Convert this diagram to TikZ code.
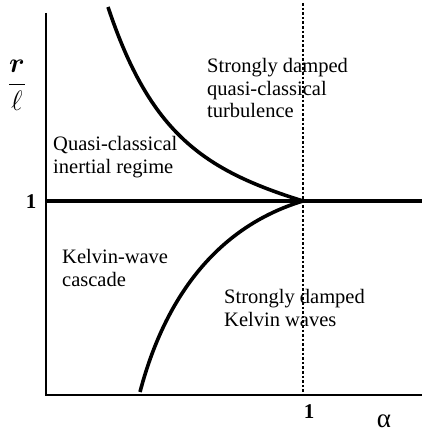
\RequirePackage{fix-cm}
\documentclass[tikz,border=0pt]{standalone}
\usepackage{amsmath}
\usepackage{fontspec}
\setmainfont{Liberation Serif}
\tikzset{
  region/.style={anchor=west, align=left, inner sep=0pt,
    font=\fontsize{20.5}{22.5}\selectfont},
  axisline/.style={line width=2.4pt},
  boundary/.style={line width=3.6pt},
  ticklabel/.style={inner sep=0pt, font=\fontsize{21}{24}\selectfont\bfseries},
}

\begin{document}
\begin{tikzpicture}[x=1pt,y=1pt]
\useasboundingbox (0,0) rectangle (422,434);

% axes
\coordinate (O) at (46,39);
\coordinate (ytop) at (46,421);
\coordinate (xend) at (422,39);
\draw[axisline] (ytop) -- (O) -- (xend);

% r = l
\coordinate (rone) at (46,233);
\coordinate (rend) at (422,233);
\coordinate (crit) at (303,233);
\draw[line width=4.6pt] (rone) -- (rend);

% alpha = 1
\coordinate (atop) at (303,431);
\coordinate (abot) at (303,39);
\draw[line width=2pt, dash pattern=on 2.6pt off 2pt] (atop) -- (abot);

% boundaries
\coordinate (up) at (108,427);
\coordinate (low) at (140,42);
\draw[boundary] (up) .. controls (150,301) and (203,264) .. (crit);
\draw[boundary] (low) .. controls (170,156) and (233,212) .. (crit);

% axis labels
\node (rl) at (17,349) {\fontsize{28}{32}\selectfont$\dfrac{\boldsymbol{r}}{\ell}$};
\node[ticklabel] (yone) at (31,232) {1};
\node[ticklabel] (xone) at (309,22) {1};
\node[inner sep=0pt] (alpha) at (384,13) {\fontsize{27}{30}\selectfont α};

% regimes
\node[region] (qc) at (53,277) {Quasi-classical\\inertial regime};
\node[region] (sdq) at (207,346) {Strongly damped\\quasi-classical\\turbulence};
\node[region] (kw) at (62,166) {Kelvin-wave\\cascade};
\node[region] (sdk) at (224,126) {Strongly damped\\Kelvin waves};

\end{tikzpicture}
\end{document}
